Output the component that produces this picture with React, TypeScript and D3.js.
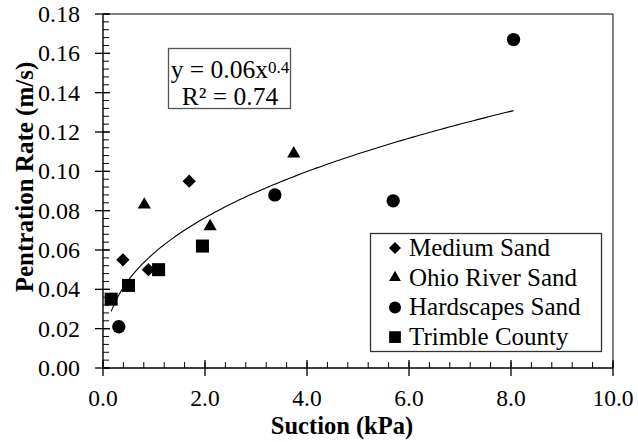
import React, { useRef, useEffect } from 'react'
import * as d3 from 'd3'

// series
const seriesNames = ['Medium Sand', 'Ohio River Sand', 'Hardscapes Sand', 'Trimble County']
const mediumX = [0.39, 0.89, 1.69]
const mediumY = [0.055, 0.05, 0.095]
const ohioX = [0.81, 2.1, 3.74]
const ohioY = [0.083, 0.072, 0.109]
const hardX = [0.31, 3.37, 5.69, 8.05]
const hardY = [0.021, 0.088, 0.085, 0.167]
const trimbleX = [0.16, 0.5, 1.09, 1.95]
const trimbleY = [0.035, 0.042, 0.05, 0.062]

const xTicks = [0, 2, 4, 6, 8, 10]
const yTicks = [0, 0.02, 0.04, 0.06, 0.08, 0.1, 0.12, 0.14, 0.16, 0.18]

const W = 638
const H = 442
const FONT = 'Liberation Serif'

const App = () => {
  const svgRef = useRef<SVGSVGElement>(null)

  useEffect(() => {
    const svg = d3.select(svgRef.current)
    svg.selectAll('*').remove()

    const margin = { top: 14, right: 25, bottom: 74, left: 103 }
    const x = d3.scaleLinear().domain([0, 10]).range([margin.left, W - margin.right])
    const y = d3.scaleLinear().domain([0, 0.18]).range([H - margin.bottom, margin.top])
    const x0 = x(0)
    const y0 = y(0)

    svg.append('rect').attr('width', W).attr('height', H).attr('fill', '#fff')

    // frame top/right
    svg
      .append('path')
      .attr('d', `M${x0},${y(0.18)}H${x(10)}V${y0}`)
      .attr('fill', 'none')
      .attr('stroke', '#000')
      .attr('stroke-width', 1)

    // minor ticks
    const xMinor = d3.range(0, 10.001, 0.4)
    const yMinor = d3.range(0, 0.1801, 0.004)
    svg
      .append('g')
      .selectAll('line')
      .data(xMinor)
      .enter()
      .append('line')
      .attr('x1', (d) => x(d))
      .attr('x2', (d) => x(d))
      .attr('y1', y0)
      .attr('y2', y0 - 6)
      .attr('stroke', '#000')
      .attr('stroke-width', 1)
    svg
      .append('g')
      .selectAll('line')
      .data(yMinor)
      .enter()
      .append('line')
      .attr('x1', x0)
      .attr('x2', x0 + 6)
      .attr('y1', (d) => y(d))
      .attr('y2', (d) => y(d))
      .attr('stroke', '#000')
      .attr('stroke-width', 1)

    // major ticks
    svg
      .append('g')
      .selectAll('line')
      .data(xTicks)
      .enter()
      .append('line')
      .attr('x1', (d) => x(d))
      .attr('x2', (d) => x(d))
      .attr('y1', y0 - 8)
      .attr('y2', y0 + 8)
      .attr('stroke', '#000')
      .attr('stroke-width', 1.3)
    svg
      .append('g')
      .selectAll('line')
      .data(yTicks)
      .enter()
      .append('line')
      .attr('x1', x0 - 8)
      .attr('x2', x0 + 7)
      .attr('y1', (d) => y(d))
      .attr('y2', (d) => y(d))
      .attr('stroke', '#000')
      .attr('stroke-width', 1.3)

    // axis lines
    svg
      .append('path')
      .attr('d', `M${x0},${y(0.18)}V${y0}H${x(10)}`)
      .attr('fill', 'none')
      .attr('stroke', '#000')
      .attr('stroke-width', 1.4)

    // tick labels
    svg
      .append('g')
      .selectAll('text')
      .data(xTicks)
      .enter()
      .append('text')
      .attr('x', (d) => x(d))
      .attr('y', y0 + 38)
      .attr('text-anchor', 'middle')
      .attr('font-family', FONT)
      .attr('font-size', 23.5)
      .text((d) => d3.format('.1f')(d))
    svg
      .append('g')
      .selectAll('text')
      .data(yTicks)
      .enter()
      .append('text')
      .attr('x', x0 - 23)
      .attr('y', (d) => y(d))
      .attr('dy', '0.34em')
      .attr('text-anchor', 'end')
      .attr('font-family', FONT)
      .attr('font-size', 24)
      .text((d) => d3.format('.2f')(d))

    // axis titles
    svg
      .append('text')
      .attr('x', 342)
      .attr('y', 434)
      .attr('text-anchor', 'middle')
      .attr('font-family', FONT)
      .attr('font-weight', 'bold')
      .attr('font-size', 24.5)
      .text('Suction (kPa)')
    svg
      .append('text')
      .attr('transform', 'translate(33,177) rotate(-90)')
      .attr('text-anchor', 'middle')
      .attr('font-family', FONT)
      .attr('font-weight', 'bold')
      .attr('font-size', 25)
      .text('Pentration Rate (m/s)')

    // power trendline, fitted in log-log space like Excel
    const allX = [...mediumX, ...ohioX, ...hardX, ...trimbleX]
    const allY = [...mediumY, ...ohioY, ...hardY, ...trimbleY]
    const lx = allX.map(Math.log)
    const ly = allY.map(Math.log)
    const mx = d3.mean(lx) as number
    const my = d3.mean(ly) as number
    const sxy = d3.sum(lx, (v, i) => (v - mx) * (ly[i] - my))
    const sxx = d3.sum(lx, (v) => (v - mx) * (v - mx))
    const b = sxy / sxx
    const a = Math.exp(my - b * mx)
    const [minX, maxX] = d3.extent(allX) as [number, number]
    const curve = d3.range(0, 101).map((i) => {
      const xv = minX + ((maxX - minX) * i) / 100
      return [xv, a * Math.pow(xv, b)] as [number, number]
    })
    svg
      .append('path')
      .datum(curve)
      .attr('fill', 'none')
      .attr('stroke', '#000')
      .attr('stroke-width', 1.1)
      .attr(
        'd',
        d3
          .line<[number, number]>()
          .x((d) => x(d[0]))
          .y((d) => y(d[1])),
      )

    // markers
    const diamond = d3.symbol().type(d3.symbolSquare).size(88)()
    const triangle = d3.symbol().type(d3.symbolTriangle).size(75)()
    const circle = d3.symbol().type(d3.symbolCircle).size(140)()
    const square = d3.symbol().type(d3.symbolSquare).size(170)()
    const sets = [
      { xs: mediumX, ys: mediumY, path: diamond, rot: 45 },
      { xs: ohioX, ys: ohioY, path: triangle, rot: 0 },
      { xs: hardX, ys: hardY, path: circle, rot: 0 },
      { xs: trimbleX, ys: trimbleY, path: square, rot: 0 },
    ]
    sets.forEach((s) => {
      svg
        .append('g')
        .selectAll('path')
        .data(s.xs.map((v, i) => [v, s.ys[i]]))
        .enter()
        .append('path')
        .attr('d', s.path)
        .attr('transform', (d) => `translate(${x(d[0])},${y(d[1])}) rotate(${s.rot})`)
        .attr('fill', '#000')
    })

    // equation box
    const eq = svg.append('g')
    eq.append('rect')
      .attr('x', 168.5)
      .attr('y', 48.5)
      .attr('width', 122)
      .attr('height', 60)
      .attr('fill', '#fff')
      .attr('stroke', '#555')
      .attr('stroke-width', 1.3)
    const t1 = eq
      .append('text')
      .attr('x', 230)
      .attr('y', 78)
      .attr('text-anchor', 'middle')
      .attr('font-family', FONT)
      .attr('font-size', 25.5)
    t1.append('tspan').text(`y = ${d3.format('.2f')(a)}x`)
    t1.append('tspan').attr('dy', -5).attr('font-size', 17).text(d3.format('.1f')(b))
    eq.append('text')
      .attr('x', 230)
      .attr('y', 105)
      .attr('text-anchor', 'middle')
      .attr('font-family', FONT)
      .attr('font-size', 25.5)
      .text('R² = 0.74')

    // legend
    const lg = svg.append('g')
    lg.append('rect')
      .attr('x', 370.5)
      .attr('y', 233.5)
      .attr('width', 231)
      .attr('height', 118)
      .attr('fill', '#fff')
      .attr('stroke', '#333')
      .attr('stroke-width', 1.3)
    seriesNames.forEach((name, i) => {
      const by = 256 + i * 29.7
      lg.append('path')
        .attr('d', sets[i].path)
        .attr('transform', `translate(395,${by - 8}) rotate(${sets[i].rot}) scale(0.9)`)
        .attr('fill', '#000')
      lg.append('text')
        .attr('x', 409)
        .attr('y', by)
        .attr('font-family', FONT)
        .attr('font-size', 25)
        .text(name)
    })
  }, [])

  return (
    <svg
      ref={svgRef}
      width={W}
      height={H}
      style={{ position: 'absolute', left: 0, top: 0 }}
    />
  )
}

export default App
